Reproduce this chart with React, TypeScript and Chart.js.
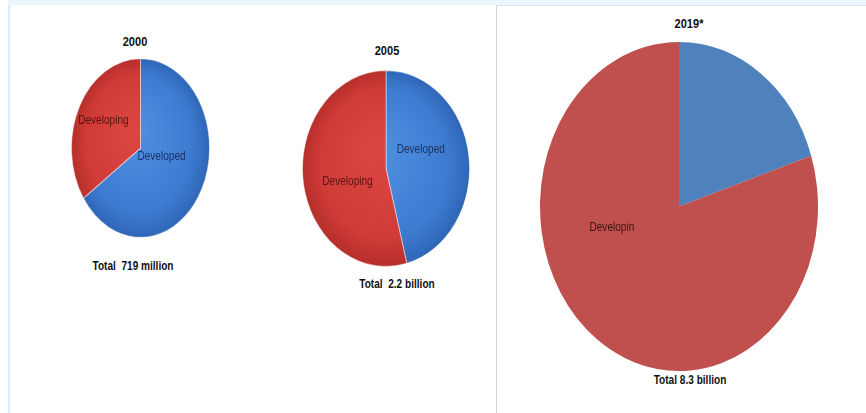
import React, { useEffect, useRef } from "react";
import { Chart, registerables } from "chart.js";

Chart.register(...registerables);

// ---- data ----
const categories = ["Developed", "Developing"];
const share2000 = [65.5, 34.5];
const share2005 = [46, 54];
const share2019 = [20, 80];
const sliceLabels2000 = ["Developed", "Developing"];
const sliceLabels2005 = ["Developed", "Developing"];
const sliceLabels2019 = ["", "Developin"];
const years = ["2000", "2005", "2019*"];
const totals = ["Total  719 million", "Total  2.2 billion", "Total 8.3 billion"];

const FONT = "'Liberation Sans', Arial, sans-serif";
const NARROW = 0.84;

type PieSpec = {
  values: number[];
  labels: string[];
  left: number;
  top: number;
  w: number;
  h: number;
  gradient: boolean;
  placement: { shift: number; frac: number }[];
  labelColors: string[];
  fontSize: number;
};

const pies: PieSpec[] = [
  {
    values: share2000,
    labels: sliceLabels2000,
    left: 71,
    top: 58,
    w: 139,
    h: 180,
    gradient: true,
    placement: [
      { shift: -10, frac: 0.32 },
      { shift: 2, frac: 0.62 },
    ],
    labelColors: ["#1c3363", "#5a1414"],
    fontSize: 12,
  },
  {
    values: share2005,
    labels: sliceLabels2005,
    left: 302,
    top: 70,
    w: 168,
    h: 197,
    gradient: true,
    placement: [
      { shift: -18, frac: 0.46 },
      { shift: -9, frac: 0.48 },
    ],
    labelColors: ["#1c3363", "#5a1414"],
    fontSize: 12,
  },
  {
    values: share2019,
    labels: sliceLabels2019,
    left: 540,
    top: 42,
    w: 278,
    h: 329,
    gradient: false,
    placement: [
      { shift: 0, frac: 0.5 },
      { shift: 39, frac: 0.5 },
    ],
    labelColors: ["#1c3363", "#3a1212"],
    fontSize: 12,
  },
];

const flatColors = ["#4f81bd", "#c0504d"];
const gradColors = [
  ["#4f8fe0", "#3d7bd0", "#2f66b6"],
  ["#dc4642", "#cf3b37", "#b52e2b"],
];

function PieChart({ spec }: { spec: PieSpec }) {
  const ref = useRef<HTMLCanvasElement | null>(null);
  useEffect(() => {
    if (!ref.current) return;
    const pad = 2;
    const k = spec.h / spec.w;
    const ellipsePlugin = {
      id: "ellipseScale",
      beforeDatasetsDraw(chart: any) {
        const { ctx, chartArea } = chart;
        const cx = (chartArea.left + chartArea.right) / 2;
        const cy = (chartArea.top + chartArea.bottom) / 2;
        ctx.save();
        ctx.translate(cx, cy);
        ctx.scale(1, k);
        ctx.translate(-cx, -cy);
      },
      afterDatasetsDraw(chart: any) {
        const ctx = chart.ctx;
        ctx.restore();
        const meta = chart.getDatasetMeta(0);
        meta.data.forEach((arc: any, i: number) => {
          const text = spec.labels[i];
          if (!text) return;
          const p = spec.placement[i];
          const mid = (arc.startAngle + arc.endAngle) / 2 + (p.shift * Math.PI) / 180;
          const r = arc.outerRadius * p.frac;
          const x = arc.x + Math.cos(mid) * r;
          const y = arc.y + Math.sin(mid) * r * k;
          ctx.save();
          ctx.font = `${spec.fontSize}px ${FONT}`;
          ctx.textAlign = "center";
          ctx.textBaseline = "middle";
          ctx.fillStyle = spec.labelColors[i];
          ctx.translate(x, y);
          ctx.scale(NARROW, 1);
          ctx.fillText(text, 0, 0);
          ctx.restore();
        });
      },
    };

    const bg = (c: any) => {
      const i = c.dataIndex;
      if (!spec.gradient) return flatColors[i];
      const chart = c.chart;
      const a = chart.chartArea;
      if (!a) return flatColors[i];
      const cx = (a.left + a.right) / 2;
      const cy = (a.top + a.bottom) / 2;
      const r = Math.min(a.right - a.left, a.bottom - a.top) / 2;
      const g = chart.ctx.createRadialGradient(cx - r * 0.1, cy - r * 0.2, r * 0.05, cx, cy, r);
      g.addColorStop(0, gradColors[i][0]);
      g.addColorStop(0.75, gradColors[i][1]);
      g.addColorStop(1, gradColors[i][2]);
      return g;
    };

    const chart = new Chart(ref.current, {
      type: "pie",
      data: {
        labels: categories,
        datasets: [
          {
            data: spec.values,
            backgroundColor: bg,
            borderWidth: spec.gradient ? 1 : 0,
            borderColor: "rgba(255,255,255,0.45)",
          },
        ],
      },
      options: {
        responsive: false,
        animation: false,
        events: [],
        layout: { padding: pad },
        plugins: {
          legend: { display: false },
          tooltip: { enabled: false },
          title: { display: false },
        },
      },
      plugins: [ellipsePlugin],
    });
    return () => chart.destroy();
  }, [spec]);

  return (
    <canvas
      ref={ref}
      width={spec.w + 4}
      height={spec.h + 4}
      style={{
        position: "absolute",
        left: spec.left - 2,
        top: spec.top - 2,
        width: spec.w + 4,
        height: spec.h + 4,
      }}
    />
  );
}

const textBase: React.CSSProperties = {
  position: "absolute",
  fontFamily: FONT,
  fontWeight: "bold",
  fontSize: 12,
  color: "#111",
  whiteSpace: "pre",
  lineHeight: "14px",
};

const textPos = [
  { title: [135, 42], total: [133, 266] },
  { title: [387, 51], total: [397, 284] },
  { title: [689, 24], total: [690, 380] },
];

export default function App() {
  return (
    <div
      style={{
        position: "fixed",
        left: 0,
        top: 0,
        width: 866,
        height: 413,
        background: "#ffffff",
        overflow: "hidden",
      }}
    >
      <div style={{ position: "absolute", left: 8, top: 0, width: 858, height: 5, background: "#eef6fd" }} />
      <div
        style={{
          position: "absolute",
          left: 8,
          top: 5,
          width: 486,
          height: 408,
          borderLeft: "2px solid #dcedfa",
          background: "#fff",
        }}
      />
      <div
        style={{
          position: "absolute",
          left: 496,
          top: 5,
          width: 370,
          height: 408,
          borderLeft: "1px solid #d6d6d6",
          borderTop: "1px solid #e0e0e0",
          background: "#fff",
        }}
      />
      {pies.map((p, i) => (
        <PieChart key={i} spec={p} />
      ))}
      {years.map((y, i) => (
        <div
          key={"t" + i}
          style={{
            ...textBase,
            left: textPos[i].title[0],
            top: textPos[i].title[1],
            transform: "translate(-50%, -50%) scaleX(0.92)",
          }}
        >
          {y}
        </div>
      ))}
      {totals.map((t, i) => (
        <div
          key={"s" + i}
          style={{
            ...textBase,
            left: textPos[i].total[0],
            top: textPos[i].total[1],
            transform: `translate(-50%, -50%) scaleX(${NARROW})`,
          }}
        >
          {t}
        </div>
      ))}
    </div>
  );
}
